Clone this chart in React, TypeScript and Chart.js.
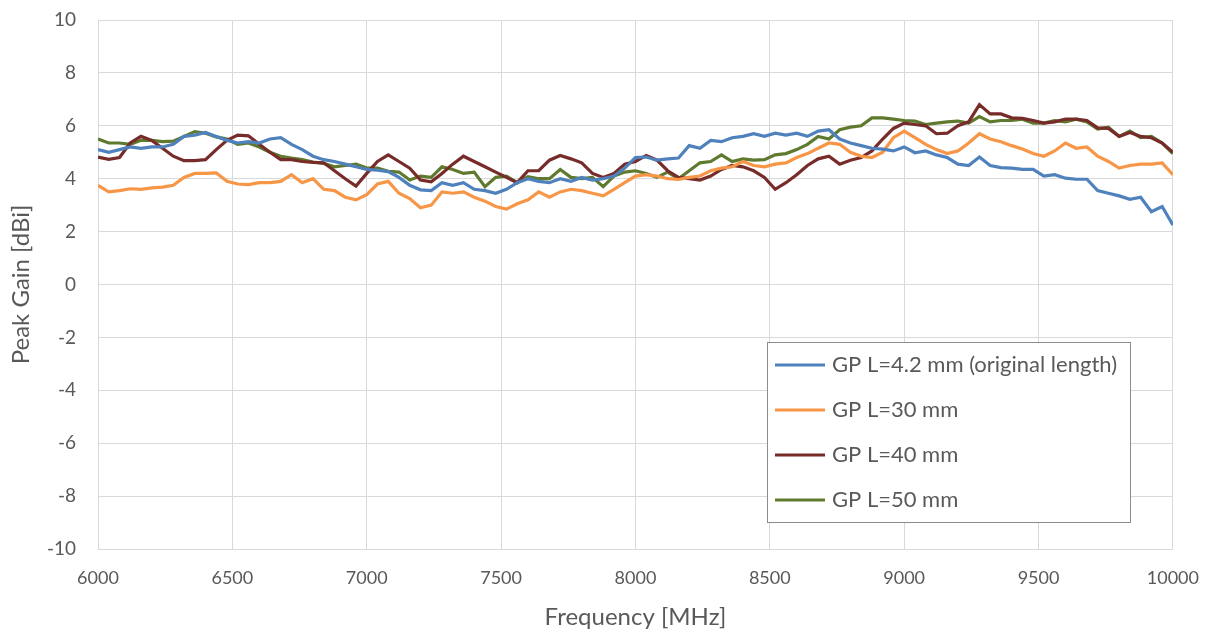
import React, { useEffect, useRef } from "react";
import { Chart, registerables } from "chart.js";

Chart.register(...registerables);

// Sampling grid: 6000 .. 10000 MHz every 40 MHz
const FREQ_START = 6000;
const FREQ_STEP = 40;

const seriesNames = [
  "GP L=4.2 mm (original length)",
  "GP L=30 mm",
  "GP L=40 mm",
  "GP L=50 mm",
];
const seriesColors = ["#4F81BD", "#F79646", "#772C2A", "#5F7A2E"];

const gainL4p2 = [
  5.1, 5.0, 5.1, 5.2, 5.15, 5.2, 5.2, 5.3, 5.6, 5.65, 5.75, 5.6, 5.45, 5.35, 5.4, 5.35, 5.5, 5.55, 5.3, 5.1, 4.85,
  4.72, 4.65, 4.55, 4.45, 4.35, 4.32, 4.27, 4.05, 3.75, 3.58, 3.55, 3.85, 3.75, 3.85, 3.6, 3.55, 3.45, 3.6, 3.85, 4.0,
  3.9, 3.85, 4.0, 3.9, 4.05, 3.95, 4.0, 4.1, 4.4, 4.8, 4.82, 4.7, 4.75, 4.78, 5.25, 5.15, 5.45, 5.4, 5.55, 5.6,
  5.7, 5.6, 5.72, 5.65, 5.72, 5.6, 5.8, 5.85, 5.5, 5.35, 5.25, 5.15, 5.12, 5.05, 5.2, 4.98, 5.05, 4.9, 4.8, 4.55,
  4.5, 4.82, 4.5, 4.42, 4.4, 4.35, 4.35, 4.1, 4.15, 4.02, 3.98, 3.98, 3.55, 3.45, 3.35, 3.22, 3.3, 2.75, 2.95, 2.25,
];

const gainL30 = [
  3.75, 3.5, 3.55, 3.62, 3.6, 3.65, 3.68, 3.75, 4.05, 4.2, 4.2, 4.22, 3.9, 3.8, 3.78, 3.85, 3.85, 3.9, 4.15, 3.85, 4.0,
  3.6, 3.55, 3.3, 3.2, 3.4, 3.8, 3.9, 3.45, 3.25, 2.9, 3.0, 3.5, 3.45, 3.5, 3.3, 3.15, 2.95, 2.85, 3.05, 3.2,
  3.5, 3.3, 3.5, 3.6, 3.55, 3.45, 3.35, 3.6, 3.85, 4.1, 4.15, 4.1, 4.0, 3.97, 4.05, 4.1, 4.3, 4.4, 4.45, 4.65,
  4.5, 4.45, 4.55, 4.6, 4.8, 4.95, 5.15, 5.35, 5.3, 5.0, 4.85, 4.8, 5.0, 5.55, 5.8, 5.55, 5.3, 5.1, 4.95, 5.05,
  5.35, 5.7, 5.5, 5.4, 5.25, 5.12, 4.95, 4.85, 5.05, 5.35, 5.15, 5.2, 4.85, 4.65, 4.4, 4.5, 4.55, 4.55, 4.6, 4.15,
];

const gainL40 = [
  4.82, 4.73, 4.8, 5.35, 5.6, 5.45, 5.15, 4.85, 4.68, 4.68, 4.72, 5.1, 5.45, 5.65, 5.62, 5.3, 5.0, 4.72, 4.72, 4.65, 4.62,
  4.6, 4.3, 4.0, 3.72, 4.2, 4.65, 4.9, 4.65, 4.4, 3.95, 3.88, 4.2, 4.55, 4.85, 4.65, 4.45, 4.25, 4.05, 3.85, 4.3,
  4.3, 4.7, 4.88, 4.75, 4.6, 4.2, 4.05, 4.2, 4.55, 4.65, 4.88, 4.7, 4.3, 4.05, 4.0, 3.95, 4.1, 4.35, 4.5, 4.45,
  4.3, 4.05, 3.6, 3.85, 4.15, 4.5, 4.75, 4.85, 4.55, 4.7, 4.8, 5.05, 5.5, 5.9, 6.1, 6.05, 6.0, 5.7, 5.72, 6.0,
  6.15, 6.8, 6.45, 6.45, 6.3, 6.28, 6.2, 6.1, 6.15, 6.25, 6.25, 6.2, 5.92, 5.9, 5.6, 5.75, 5.6, 5.55, 5.35, 5.0,
];

const gainL50 = [
  5.5, 5.35, 5.35, 5.3, 5.45, 5.45, 5.4, 5.42, 5.6, 5.78, 5.72, 5.58, 5.5, 5.3, 5.35, 5.2, 5.0, 4.85, 4.78, 4.72, 4.63,
  4.58, 4.45, 4.5, 4.55, 4.4, 4.4, 4.28, 4.25, 3.95, 4.1, 4.05, 4.45, 4.35, 4.2, 4.25, 3.7, 4.05, 4.1, 3.85, 4.08,
  4.0, 4.0, 4.35, 4.05, 4.0, 4.05, 3.7, 4.1, 4.25, 4.3, 4.2, 4.05, 4.25, 4.0, 4.3, 4.6, 4.65, 4.9, 4.65, 4.75,
  4.7, 4.72, 4.9, 4.95, 5.1, 5.3, 5.6, 5.5, 5.85, 5.95, 6.0, 6.3, 6.3, 6.25, 6.2, 6.18, 6.05, 6.1, 6.15, 6.18,
  6.1, 6.35, 6.15, 6.2, 6.2, 6.25, 6.1, 6.1, 6.2, 6.15, 6.25, 6.15, 5.88, 5.95, 5.6, 5.8, 5.55, 5.6, 5.35, 4.95,
];

const seriesValues = [gainL4p2, gainL30, gainL40, gainL50];

const xTickValues = [6000, 6500, 7000, 7500, 8000, 8500, 9000, 9500, 10000];
const yTickValues = [-10, -8, -6, -4, -2, 0, 2, 4, 6, 8, 10];

const FONT = "Lato, 'Open Sans', sans-serif";
const TEXT_COLOR = "#595959";
const GRID_COLOR = "#D9D9D9";

const legendPlugin = {
  id: "boxLegend",
  afterDraw(chart: any) {
    const { ctx, chartArea } = chart;
    const left = chartArea.left + 669;
    const top = chartArea.top + 322;
    const w = 363;
    const h = 180;
    ctx.save();
    ctx.fillStyle = "#FFFFFF";
    ctx.fillRect(left, top, w, h);
    ctx.strokeStyle = "#8C8C8C";
    ctx.lineWidth = 1;
    ctx.strokeRect(left + 0.5, top + 0.5, w, h);
    ctx.font = `22px ${FONT}`;
    ctx.textBaseline = "middle";
    ctx.textAlign = "left";
    seriesNames.forEach((name, i) => {
      const y = top + 23 + i * 45;
      ctx.strokeStyle = seriesColors[i];
      ctx.lineWidth = 3;
      ctx.beginPath();
      ctx.moveTo(left + 8, y);
      ctx.lineTo(left + 58, y);
      ctx.stroke();
      ctx.fillStyle = TEXT_COLOR;
      ctx.fillText(name, left + 65, y);
    });
    ctx.restore();
  },
};

export default function App() {
  const canvasRef = useRef<HTMLCanvasElement | null>(null);

  useEffect(() => {
    if (!canvasRef.current) return;
    const datasets = seriesValues.map((vals, i) => ({
      label: seriesNames[i],
      data: vals.map((v, k) => ({ x: FREQ_START + k * FREQ_STEP, y: v })),
      borderColor: seriesColors[i],
      backgroundColor: seriesColors[i],
      borderWidth: 3.2,
      pointRadius: 0,
      tension: 0,
      fill: false,
    }));

    const chart = new Chart(canvasRef.current, {
      type: "line",
      data: { datasets },
      plugins: [legendPlugin],
      options: {
        animation: false,
        responsive: false,
        maintainAspectRatio: false,
        layout: { padding: { left: 0, right: 44, top: 20, bottom: 0 } },
        plugins: {
          legend: { display: false },
          tooltip: { enabled: false },
        },
        scales: {
          x: {
            type: "linear",
            min: 6000,
            max: 10000,
            afterBuildTicks: (scale: any) => {
              scale.ticks = xTickValues.map((v) => ({ value: v }));
            },
            afterFit: (scale: any) => {
              scale.height = 86;
            },
            grid: { color: GRID_COLOR, drawTicks: false, lineWidth: 1 },
            border: { color: GRID_COLOR },
            ticks: {
              padding: 18,
              color: TEXT_COLOR,
              font: { family: FONT, size: 18 },
              maxRotation: 0,
              callback: (v: any) => String(v),
            },
            title: {
              display: true,
              text: "Frequency [MHz]",
              color: TEXT_COLOR,
              font: { family: FONT, size: 24 },
              padding: { top: 0, bottom: 3 },
            },
          },
          y: {
            type: "linear",
            min: -10,
            max: 10,
            afterBuildTicks: (scale: any) => {
              scale.ticks = yTickValues.map((v) => ({ value: v }));
            },
            afterFit: (scale: any) => {
              scale.width = 98;
              scale.paddingTop = 0;
              scale.paddingBottom = 0;
            },
            grid: { color: GRID_COLOR, drawTicks: false, lineWidth: 1 },
            border: { color: GRID_COLOR },
            ticks: {
              padding: 22,
              color: TEXT_COLOR,
              font: { family: FONT, size: 19 },
              callback: (v: any) => String(v),
            },
            title: {
              display: true,
              text: "Peak Gain [dBi]",
              color: TEXT_COLOR,
              font: { family: FONT, size: 24 },
              padding: { top: 7, bottom: 0 },
            },
          },
        },
      },
    });
    return () => chart.destroy();
  }, []);

  return (
    <div
      style={{
        position: "absolute",
        left: 0,
        top: 0,
        width: 1217,
        height: 635,
        background: "#FFFFFF",
      }}
    >
      <canvas ref={canvasRef} width={1217} height={635} style={{ display: "block" }} />
    </div>
  );
}
